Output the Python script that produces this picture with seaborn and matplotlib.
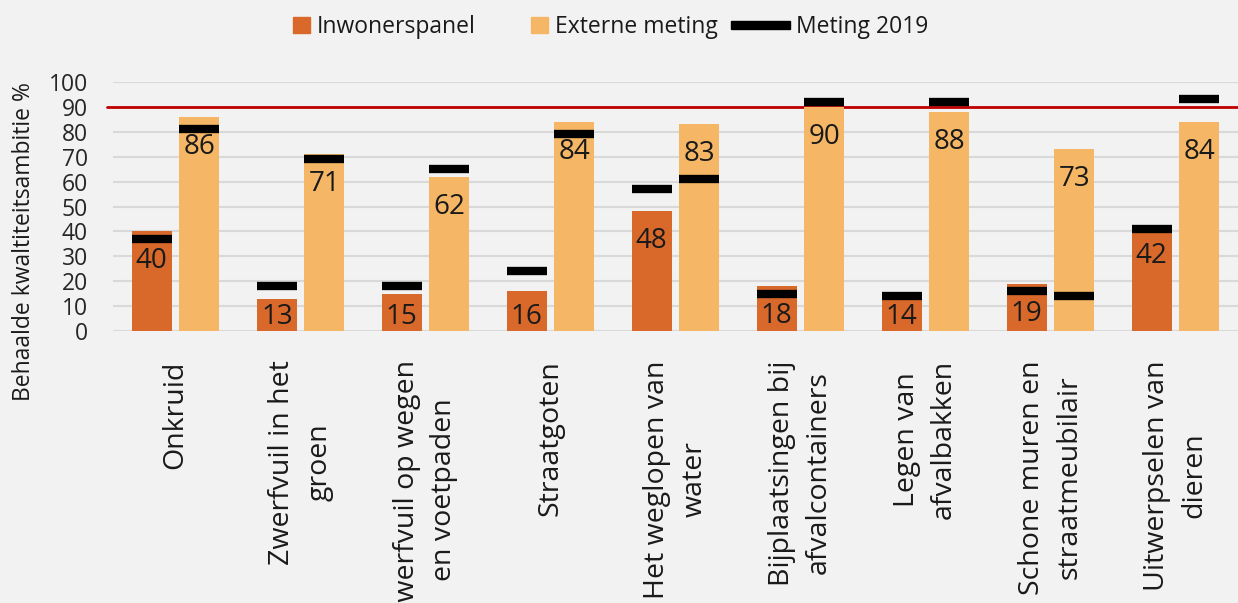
import pandas as pd
import matplotlib.pyplot as plt
import matplotlib.patches as mpatches
from matplotlib.legend_handler import HandlerPatch
import seaborn as sns

# Data
categories = [
    "Onkruid",
    "Zwerfvuil in het\ngroen",
    "Zwerfvuil op wegen\nen voetpaden",
    "Straatgoten",
    "Het weglopen van\nwater",
    "Bijplaatsingen bij\nafvalcontainers",
    "Legen van\nafvalbakken",
    "Schone muren en\nstraatmeubilair",
    "Uitwerpselen van\ndieren",
]
inwonerspanel = [40, 13, 15, 16, 48, 18, 14, 19, 42]
externe_meting = [86, 71, 62, 84, 83, 90, 88, 73, 84]
meting_2019_inwonerspanel = [37, 18, 18, 24, 57, 15, 14, 16, 41]
meting_2019_extern = [81, 69, 65, 79, 61, 92, 92, 14, 93]
ambitie = 90
series_names = ["Inwonerspanel", "Externe meting"]

df = pd.DataFrame({
    "categorie": categories * 2,
    "waarde": inwonerspanel + externe_meting,
    "reeks": [series_names[0]] * len(categories) + [series_names[1]] * len(categories),
})

dark_orange = "#d9692a"
light_orange = "#f5b766"
bg = "#f2f2f2"

sns.set_theme(style="white")
plt.rcParams["font.family"] = ["Open Sans", "DejaVu Sans"]

fig = plt.figure(figsize=(12.38, 6.03), dpi=100, facecolor=bg)
ax = fig.add_axes([113 / 1238, 272 / 603, 1125 / 1238, 249 / 603])
ax.set_facecolor(bg)

sns.barplot(data=df, x="categorie", y="waarde", hue="reeks",
            palette=[dark_orange, light_orange], saturation=1,
            width=0.76, gap=0.16, linewidth=0, legend=False, ax=ax, zorder=2)

# 2019 markers and value labels on top of every bar
for container, vals, old in zip(ax.containers,
                                [inwonerspanel, externe_meting],
                                [meting_2019_inwonerspanel, meting_2019_extern]):
    for bar, v, o in zip(container, vals, old):
        x0 = bar.get_x()
        x1 = x0 + bar.get_width()
        ax.hlines(o, x0, x1, color="black", lw=6, zorder=4)
        ax.text((x0 + x1) / 2, max(v - 12, 5.5), str(v), ha="center", va="center",
                fontsize=20, color="#1a1a1a", zorder=5)

# quality ambition line
ax.axhline(ambitie, xmin=-0.005, color="#c00000", lw=2, zorder=1.5, clip_on=False)

ax.set_ylim(0, 100)
ax.set_xlim(-0.5, len(categories) - 0.5)
ax.set_yticks(range(0, 101, 10))
ax.grid(axis="y", color="#d9d9d9", lw=1.5, zorder=0)
ax.set_axisbelow(True)
for s in ax.spines.values():
    s.set_visible(False)

ax.set_xlabel("")
ax.set_ylabel("Behaalde kwaltiteitsambitie %", fontsize=16.5, color="#1a1a1a")
ax.yaxis.set_label_coords(-0.068, 0.36)

ax.tick_params(axis="y", length=0, pad=18, labelsize=16.5, labelcolor="#262626")
ax.tick_params(axis="x", length=0, pad=21, labelsize=20.5, labelcolor="#1a1a1a")
plt.setp(ax.get_xticklabels(), rotation=90, ha="center", va="top",
         multialignment="center", linespacing=1.45)


# legend: square patches at the right end of their handle, black bar for 2019
def square_handle(legend, orig_handle, xdescent, ydescent, width, height, fontsize):
    side = 12
    return mpatches.Rectangle((-xdescent + width - side, -ydescent + (height - side) / 2),
                              side, side)


def bar_handle(legend, orig_handle, xdescent, ydescent, width, height, fontsize):
    th = 6
    return mpatches.Rectangle((-xdescent, -ydescent + (height - th) / 2), width, th)


h_inw = mpatches.Patch(color=dark_orange)
h_ext = mpatches.Patch(color=light_orange)
h_old = mpatches.Patch(color="black")
fig.legend([h_inw, h_ext, h_old], ["Inwonerspanel", "Externe meting", "Meting 2019"],
           handler_map={h_inw: HandlerPatch(patch_func=square_handle),
                        h_ext: HandlerPatch(patch_func=square_handle),
                        h_old: HandlerPatch(patch_func=bar_handle)},
           loc="center", bbox_to_anchor=(590 / 1238, 1 - 27 / 603), ncol=3,
           frameon=False, fontsize=16.5, handlelength=2.55, handleheight=0.8,
           handletextpad=0.3, columnspacing=0.6, labelcolor="#1a1a1a")

fig.savefig("out.png", dpi=100, facecolor=bg)
